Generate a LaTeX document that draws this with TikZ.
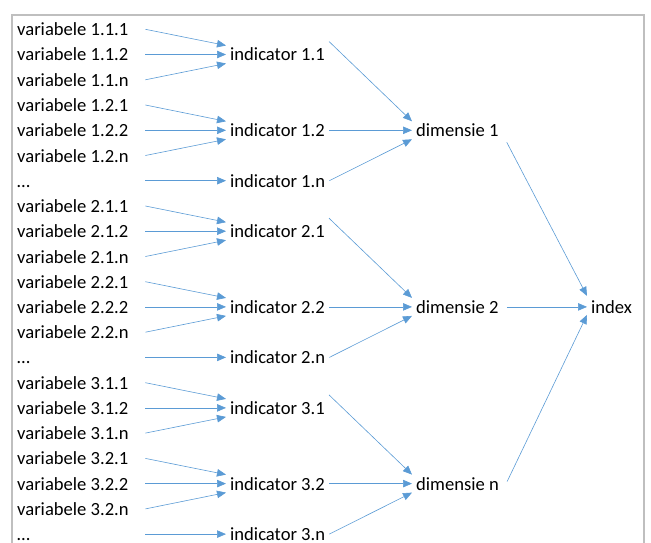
\documentclass[tikz,border=0pt]{standalone}
\usepackage{fontspec}
\setmainfont{Carlito}
\usetikzlibrary{arrows.meta}
\definecolor{linkblue}{RGB}{91,155,213}
\definecolor{framegray}{RGB}{191,191,191}

\begin{document}
\begin{tikzpicture}[x=1pt,y=-1pt,font=\fontsize{18.6}{22}\selectfont]
\tikzstyle{item}=[inner ysep=0pt,inner xsep=4pt,text height=15pt,text depth=2pt,anchor=west]
\tikzstyle{var}=[item,inner xsep=0pt,text width=128pt,align=flush left]
\tikzstyle{conn}=[draw=linkblue,line width=0.6pt,-{Triangle[length=9pt,width=7.5pt]}]
\useasboundingbox (0,0) rectangle (651,543);
\draw[framegray,line width=1.5pt] (12,15) rectangle (644,580);

% variabelen
\node[var] (V111) at (17,29.3) {variabele 1.1.1};
\node[var] (V112) at (17,54.5) {variabele 1.1.2};
\node[var] (V11n) at (17,79.8) {variabele 1.1.n};
\node[var] (V121) at (17,105.0) {variabele 1.2.1};
\node[var] (V122) at (17,130.3) {variabele 1.2.2};
\node[var] (V12n) at (17,155.5) {variabele 1.2.n};
\node[var] (V1x) at (17,180.7) {…};
\node[var] (V211) at (17,206.0) {variabele 2.1.1};
\node[var] (V212) at (17,231.2) {variabele 2.1.2};
\node[var] (V21n) at (17,256.5) {variabele 2.1.n};
\node[var] (V221) at (17,281.7) {variabele 2.2.1};
\node[var] (V222) at (17,306.9) {variabele 2.2.2};
\node[var] (V22n) at (17,332.2) {variabele 2.2.n};
\node[var] (V2x) at (17,357.4) {…};
\node[var] (V311) at (17,382.7) {variabele 3.1.1};
\node[var] (V312) at (17,407.9) {variabele 3.1.2};
\node[var] (V31n) at (17,433.1) {variabele 3.1.n};
\node[var] (V321) at (17,458.4) {variabele 3.2.1};
\node[var] (V322) at (17,483.6) {variabele 3.2.2};
\node[var] (V32n) at (17,508.9) {variabele 3.2.n};
\node[var] (V3x) at (17,534.1) {…};

% indicatoren
\node[item] (I11) at (226,54.5) {indicator 1.1};
\node[item] (I12) at (226,130.3) {indicator 1.2};
\node[item] (I1n) at (226,180.7) {indicator 1.n};
\node[item] (I21) at (226,231.2) {indicator 2.1};
\node[item] (I22) at (226,306.9) {indicator 2.2};
\node[item] (I2n) at (226,357.4) {indicator 2.n};
\node[item] (I31) at (226,407.9) {indicator 3.1};
\node[item] (I32) at (226,483.6) {indicator 3.2};
\node[item] (I3n) at (226,534.1) {indicator 3.n};

% dimensies en index
\node[item] (D1) at (412,130.3) {dimensie 1};
\node[item] (D2) at (412,306.9) {dimensie 2};
\node[item] (Dn) at (412,483.6) {dimensie n};
\node[item] (X) at (587,306.9) {index};

\draw[conn] (V111.east) -- ([yshift=9pt]I11.west);
\draw[conn] (V112.east) -- (I11.west);
\draw[conn] (V11n.east) -- ([yshift=-9pt]I11.west);
\draw[conn] (V121.east) -- ([yshift=9pt]I12.west);
\draw[conn] (V122.east) -- (I12.west);
\draw[conn] (V12n.east) -- ([yshift=-9pt]I12.west);
\draw[conn] (V1x.east) -- (I1n.west);
\draw[conn] (V211.east) -- ([yshift=9pt]I21.west);
\draw[conn] (V212.east) -- (I21.west);
\draw[conn] (V21n.east) -- ([yshift=-9pt]I21.west);
\draw[conn] (V221.east) -- ([yshift=9pt]I22.west);
\draw[conn] (V222.east) -- (I22.west);
\draw[conn] (V22n.east) -- ([yshift=-9pt]I22.west);
\draw[conn] (V2x.east) -- (I2n.west);
\draw[conn] (V311.east) -- ([yshift=9pt]I31.west);
\draw[conn] (V312.east) -- (I31.west);
\draw[conn] (V31n.east) -- ([yshift=-9pt]I31.west);
\draw[conn] (V321.east) -- ([yshift=9pt]I32.west);
\draw[conn] (V322.east) -- (I32.west);
\draw[conn] (V32n.east) -- ([yshift=-9pt]I32.west);
\draw[conn] (V3x.east) -- (I3n.west);

\draw[conn] ([yshift=13pt]I11.east) -- ([yshift=9pt]D1.west);
\draw[conn] (I12.east) -- (D1.west);
\draw[conn] (I1n.east) -- ([yshift=-9pt]D1.west);
\draw[conn] ([yshift=13pt]I21.east) -- ([yshift=9pt]D2.west);
\draw[conn] (I22.east) -- (D2.west);
\draw[conn] (I2n.east) -- ([yshift=-9pt]D2.west);
\draw[conn] ([yshift=13pt]I31.east) -- ([yshift=9pt]Dn.west);
\draw[conn] (I32.east) -- (Dn.west);
\draw[conn] (I3n.east) -- ([yshift=-9pt]Dn.west);

\draw[conn] ([xshift=4pt,yshift=-12pt]D1.east) -- ([yshift=11pt]X.west);
\draw[conn] ([xshift=4pt]D2.east) -- (X.west);
\draw[conn] ([xshift=4pt,yshift=2pt]Dn.east) -- ([yshift=-8pt]X.west);
\end{tikzpicture}
\end{document}
